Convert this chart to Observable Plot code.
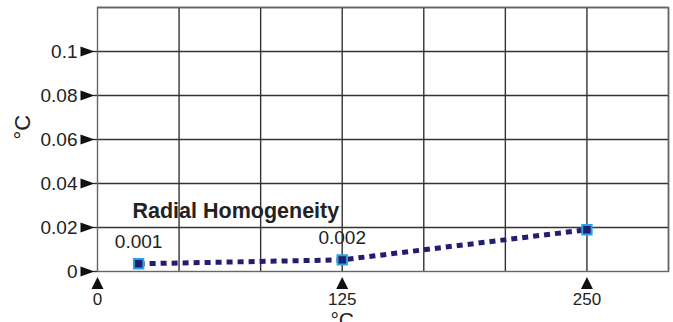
<!DOCTYPE html>
<html>
<head>
<meta charset="utf-8">
<script src="https://cdn.jsdelivr.net/npm/d3@7"></script>
<script src="https://cdn.jsdelivr.net/npm/@observablehq/plot@0.6"></script>
<style>
  html, body { margin: 0; padding: 0; background: #fff; }
</style>
</head>
<body>
<div id="chart"></div>
<script>
// Data
const tempX = [21, 125, 250];
const homogeneity = [0.0035, 0.0053, 0.019];
const pointLabels = ["0.001", "0.002", ""];
const seriesName = "Radial Homogeneity";
const yTicks = [0, 0.02, 0.04, 0.06, 0.08, 0.1];
const yGrid = [0.02, 0.04, 0.06, 0.08, 0.1, 0.12];
const xTicks = [0, 125, 250];
const xGrid = [250 / 6, 500 / 6, 125, 1000 / 6, 1250 / 6, 250, 1750 / 6];
const xLabel = "°C";
const yLabel = "°C";

const points = tempX.map((x, i) => ({x, y: homogeneity[i], label: pointLabels[i]}));

const navy = "#231d70";
const grid = "#333";

// custom arrowhead symbols
const rightTri = {draw(ctx) { ctx.moveTo(-7, -5); ctx.lineTo(7, 0); ctx.lineTo(-7, 5); ctx.closePath(); }};
const upTri = {draw(ctx) { ctx.moveTo(-6, 6); ctx.lineTo(0, -6); ctx.lineTo(6, 6); ctx.closePath(); }};

const chart = Plot.plot({
  width: 673,
  height: 322,
  marginLeft: 97,
  marginRight: 5,
  marginTop: 7,
  marginBottom: 51,
  style: {fontFamily: "'Liberation Sans', Arial, sans-serif", fontSize: "18px", background: "#fff", color: "#222"},
  x: {domain: [0, 1750 / 6]},
  y: {domain: [0, 0.12]},
  marks: [
    Plot.ruleY(yGrid, {stroke: grid, strokeWidth: 1.4}),
    Plot.ruleX(xGrid, {stroke: grid, strokeWidth: 1.4}),
    Plot.frame({stroke: "#666", strokeWidth: 1.4}),
    Plot.axisY(yTicks, {
      tickSize: 4, tickPadding: 16, stroke: grid, strokeWidth: 1.4,
      tickFormat: d => String(d), fontSize: 19, label: null
    }),
    Plot.dot(yTicks, {y: d => d, frameAnchor: "left", symbol: rightTri, r: 5, fill: "#111", stroke: "none", dx: -10}),
    Plot.axisX(xTicks, {tickSize: 0, tickPadding: 21, tickFormat: d => String(d), fontSize: 17, label: null}),
    Plot.dot(xTicks, {x: d => d, frameAnchor: "bottom", symbol: upTri, r: 5, fill: "#111", stroke: "none", dy: 11.5}),
    Plot.text([yLabel], {text: d => d, frameAnchor: "left", rotate: -90, dx: -75, fontSize: 22}),
    Plot.text([xLabel], {x: () => 125, text: d => d, frameAnchor: "bottom", lineAnchor: "top", dy: 41, fontSize: 21}),
    Plot.lineY(points, {x: "x", y: "y", stroke: navy, strokeWidth: 5, strokeDasharray: "6,5", strokeLinecap: "butt", strokeLinejoin: "miter"}),
    Plot.dot(points, {x: "x", y: "y", symbol: "square", r: 5.3, fill: navy, stroke: "#2aa2e0", strokeWidth: 2}),
    Plot.text(points, {x: "x", y: "y", text: "label", dy: -22, fontSize: 19, fill: "#222"}),
    Plot.text([seriesName], {text: d => d, frameAnchor: "top-left", textAnchor: "start", dx: 35, dy: 195, fontSize: 21.5, fontWeight: "bold", fill: "#222"})
  ]
});
document.getElementById("chart").append(chart);
</script>
</body>
</html>
